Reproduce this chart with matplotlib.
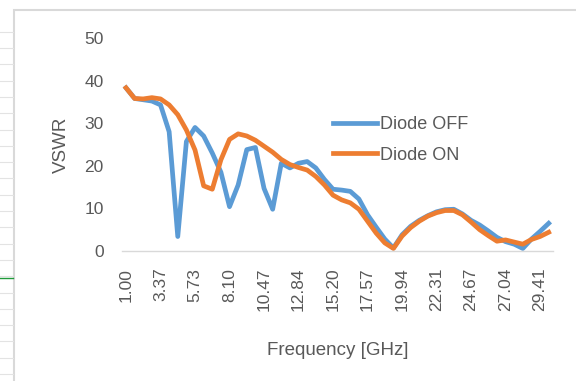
import numpy as np
import matplotlib.pyplot as plt
from matplotlib.patches import Rectangle
from matplotlib.lines import Line2D

# 50 frequency points, 1 to 30 GHz
freq_ghz = np.linspace(1.0, 30.0, 50)
freq_labels = [f"{f:.2f}" for f in freq_ghz]

vswr_off = [38.3, 35.8, 35.5, 35.2, 34.3, 28.0, 3.4, 25.7, 29.0, 27.0,
            23.0, 18.5, 10.4, 15.5, 23.8, 24.3, 14.7, 9.8, 20.6, 19.5,
            20.6, 21.0, 19.5, 16.8, 14.5, 14.3, 14.0, 12.2, 8.5, 5.6,
            2.8, 0.7, 3.8, 5.8, 7.2, 8.3, 9.2, 9.7, 9.8, 8.7,
            7.2, 6.1, 4.7, 3.2, 2.2, 1.6, 0.6, 2.8, 4.6, 6.5]

vswr_on = [38.3, 35.8, 35.7, 36.0, 35.7, 34.3, 32.0, 28.4, 23.7, 15.3,
           14.5, 21.4, 26.2, 27.5, 27.0, 26.0, 24.6, 23.2, 21.5, 20.3,
           19.6, 19.0, 17.5, 15.5, 13.1, 12.0, 11.3, 9.8, 7.0, 4.2,
           1.9, 0.6, 3.5, 5.5, 7.0, 8.2, 9.0, 9.5, 9.5, 8.5,
           6.8, 5.0, 3.6, 2.3, 2.6, 2.1, 1.6, 2.7, 3.4, 4.4]

W, H = 576, 381
txt = "#595959"
plt.rcParams["font.family"] = ["Liberation Sans", "DejaVu Sans"]

fig = plt.figure(figsize=(W / 100, H / 100), dpi=100)

# spreadsheet grid peeking out at the left edge
for yy in np.arange(31.7, H, 16.3):
    fig.add_artist(Line2D([0, 13 / W], [1 - yy / H, 1 - yy / H],
                          color="#e3e3e3", lw=0.8))
fig.add_artist(Line2D([0, 13 / W], [1 - 278 / H, 1 - 278 / H],
                      color="#1f9a3a", lw=1.0))

# chart area border
fig.add_artist(Rectangle((13.5 / W, -0.1), 1.2, 1 - 10.5 / H + 0.1,
                         transform=fig.transFigure, fill=False,
                         edgecolor="#d9d9d9", lw=1.5))

ax = fig.add_axes([121.7 / W, 1 - 251 / H, (553 - 121.7) / W, (251 - 38) / H])

x = np.arange(len(freq_ghz))
ax.plot(x, vswr_off, color="#5B9BD5", lw=3.4, solid_joinstyle="round",
        label="Diode OFF")
ax.plot(x, vswr_on, color="#ED7D31", lw=3.4, solid_joinstyle="round",
        label="Diode ON")

ax.set_xlim(-0.5, len(x) - 0.5)
ax.set_ylim(0, 50)
ax.set_yticks(range(0, 51, 10))
ax.set_xticks(x[::4])
ax.set_xticklabels(freq_labels[::4], rotation=90)
ax.tick_params(axis="both", length=0, labelsize=12.5, colors=txt)
ax.tick_params(axis="y", pad=13)
ax.tick_params(axis="x", pad=12)

for s in ["top", "right", "left"]:
    ax.spines[s].set_visible(False)
ax.spines["bottom"].set_color("#d9d9d9")
ax.spines["bottom"].set_linewidth(1.0)

ax.set_xlabel("Frequency [GHz]", fontsize=13.5, color=txt, labelpad=22)
ax.set_ylabel("VSWR", fontsize=13.5, color=txt, labelpad=10)

fig.legend(loc="center left", bbox_to_anchor=(317 / W, 1 - 140 / H),
           frameon=False, fontsize=13, handlelength=2.4,
           handletextpad=0.2, labelspacing=0.75, labelcolor=txt)

fig.savefig("out.png", dpi=100)
